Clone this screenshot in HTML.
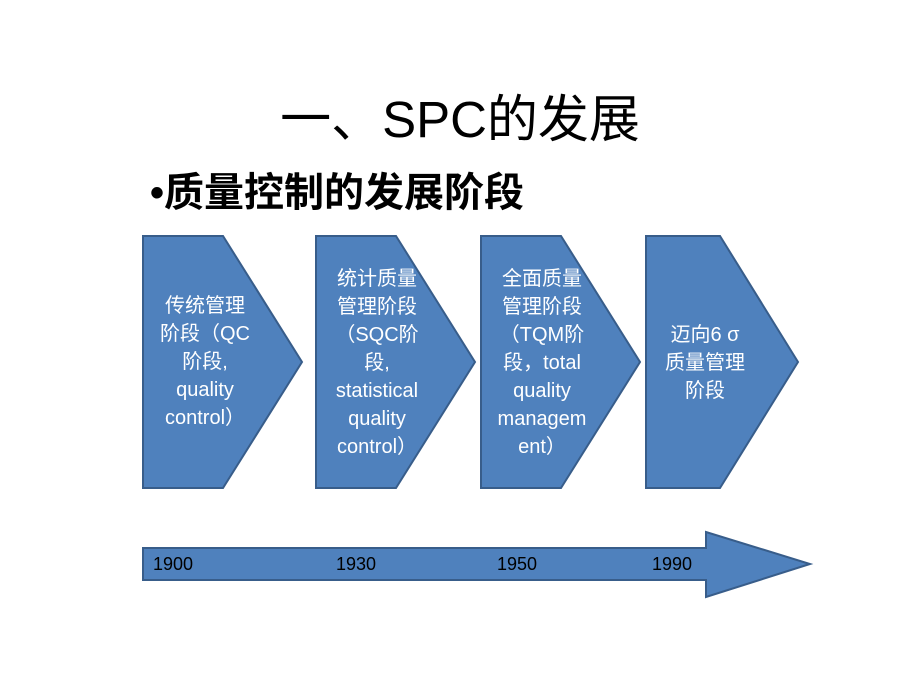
<!DOCTYPE html>
<html><head><meta charset="utf-8"><style>
body{margin:0;width:920px;height:690px;background:#fff;overflow:hidden;position:relative;font-family:"Liberation Sans","Noto Sans CJK SC",sans-serif}
.t{position:absolute;color:#fff;font-size:20px;line-height:28px;text-align:center;white-space:nowrap}
.y{position:absolute;top:554px;font-size:18px;color:#000}
</style></head><body>
<svg width="920" height="690" style="position:absolute;left:0;top:0">
<g fill="#4f81bd" stroke="#385d8a" stroke-width="2">
<polygon points="143,236 223,236 302,362 223,488 143,488"/>
<polygon points="316,236 396,236 475,362 396,488 316,488"/>
<polygon points="481,236 561,236 640,362 561,488 481,488"/>
<polygon points="646,236 720,236 798,362 720,488 646,488"/>
<polygon points="143,548 706,548 706,532 810,564 706,597 706,580 143,580"/>
</g>
<text x="460" y="137" text-anchor="middle" font-size="51" font-family="Liberation Sans,Noto Sans CJK SC,sans-serif">一、SPC的发展</text>
<text x="150" y="206" font-size="40" font-weight="bold" font-family="Liberation Sans,Noto Sans CJK SC,sans-serif">•质量控制的发展阶段</text>
</svg>
<div class="t" style="left:150px;top:292px;width:110px">传统管理<br>阶段（QC<br>阶段,<br>quality<br>control）</div>
<div class="t" style="left:322px;top:265px;width:110px">统计质量<br>管理阶段<br>（SQC阶<br>段,<br>statistical<br>quality<br>control）</div>
<div class="t" style="left:487px;top:265px;width:110px">全面质量<br>管理阶段<br>（TQM阶<br>段，total<br>quality<br>managem<br>ent）</div>
<div class="t" style="left:650px;top:321px;width:110px">迈向6 σ<br>质量管理<br>阶段</div>
<div class="y" style="left:153px">1900</div>
<div class="y" style="left:336px">1930</div>
<div class="y" style="left:497px">1950</div>
<div class="y" style="left:652px">1990</div>
</body></html>
